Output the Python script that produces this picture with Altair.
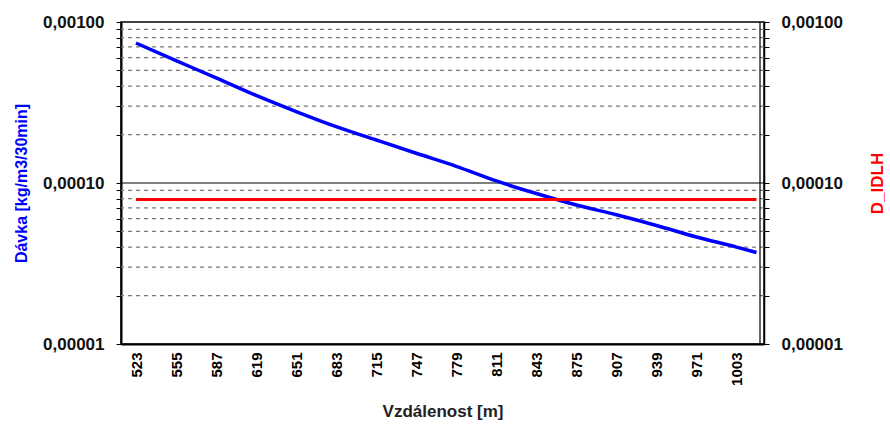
import altair as alt
import pandas as pd

# distance [m] and dose values
dist = [523, 555, 587, 619, 651, 683, 715, 747, 779, 811, 843, 875, 907, 939, 971, 1003, 1019]
davka = [7.4e-4, 5.75e-4, 4.5e-4, 3.5e-4, 2.78e-4, 2.24e-4, 1.85e-4, 1.53e-4, 1.27e-4,
         1.03e-4, 8.6e-5, 7.3e-5, 6.35e-5, 5.45e-5, 4.62e-5, 4.0e-5, 3.7e-5]
idlh_dist = [523, 1019]
idlh = [7.9e-5, 7.9e-5]
x_ticks = [523, 555, 587, 619, 651, 683, 715, 747, 779, 811, 843, 875, 907, 939, 971, 1003]
grid_minor = [m * 10 ** e for e in (-5, -4) for m in range(2, 10)]
grid_major = [1e-4]
y_ticks = [1e-5] + grid_minor[:8] + [1e-4] + grid_minor[8:] + [1e-3]

FONT = "Liberation Sans"
W, H = 643, 322
ydom = [1e-5, 1e-3]
xdom = [511, 1025]

label_expr = ("abs(log(datum.value)/LN10 - round(log(datum.value)/LN10)) < 0.01 ? "
              "replace(format(datum.value, '.5f'), '.', ',') : ''")

df = pd.DataFrame({"dist": dist, "davka": davka})
df_idlh = pd.DataFrame({"dist": idlh_dist, "idlh": idlh})
df_minor = pd.DataFrame({"v": grid_minor})
df_major = pd.DataFrame({"v": grid_major})

yscale = alt.Scale(type="log", domain=ydom, nice=False)
xscale = alt.Scale(domain=xdom, nice=False, zero=False)

left_axis = alt.Axis(values=y_ticks, labelExpr=label_expr, title="Dávka [kg/m3/30min]",
                     titleColor="#0000FF", titleFont=FONT, titleFontSize=16, titleFontWeight="bold",
                     labelFont=FONT, labelFontSize=17, labelFontWeight="bold", labelColor="#111",
                     grid=False, tickColor="black", tickSize=5, domainColor="black", domainWidth=2,
                     labelPadding=12, titlePadding=13)

minor = alt.Chart(df_minor).mark_rule(color="#7a7a7a", strokeDash=[4, 4], strokeWidth=1.3).encode(
    y=alt.Y("v:Q", scale=yscale, axis=left_axis))
major = alt.Chart(df_major).mark_rule(color="black", strokeWidth=1.2).encode(
    y=alt.Y("v:Q", scale=yscale))
blue = alt.Chart(df).mark_line(color="#0000FF", strokeWidth=3.5, interpolate="monotone").encode(
    x=alt.X("dist:Q", scale=xscale,
            axis=alt.Axis(values=x_ticks, format="d", title="Vzdálenost [m]", labelAngle=270,
                          ticks=False, grid=False, labelFont=FONT, labelFontSize=15,
                          labelFontWeight="bold", labelColor="black", domainColor="black",
                          domainWidth=2, labelPadding=8,
                          titleFont=FONT, titleFontSize=17, titleFontWeight="bold",
                          titleColor="#222", titlePadding=18)),
    y=alt.Y("davka:Q", scale=yscale))

left = alt.layer(minor, major, blue)

right_axis = alt.Axis(orient="right", values=y_ticks, labelExpr=label_expr, title="D_IDLH",
                      titleColor="#FF0000", titleFont=FONT, titleFontSize=17, titleFontWeight="bold",
                      labelFont=FONT, labelFontSize=17, labelFontWeight="bold", labelColor="#111",
                      grid=False, tickColor="black", tickSize=5, domainColor="black", domainWidth=1.5,
                      labelPadding=12, titlePadding=44, titleAngle=270)

red = alt.Chart(df_idlh).mark_line(color="#FF0000", strokeWidth=3).encode(
    x=alt.X("dist:Q", scale=xscale),
    y=alt.Y("idlh:Q", scale=yscale, axis=right_axis))

inner_rule = alt.Chart(df_major).mark_rule(color="black", strokeWidth=1.2).encode(
    x=alt.value(W - 4), y=alt.value(0), y2=alt.value(H))

chart = alt.layer(left, red, inner_rule).resolve_scale(y="independent").properties(
    width=W, height=H, autosize="none",
    padding={"left": 121, "top": 22, "right": 126, "bottom": 80},
    background="white",
).configure_view(stroke="black", strokeWidth=1.5)

chart.save("out.html", embed_options={"renderer": "svg", "actions": False})
